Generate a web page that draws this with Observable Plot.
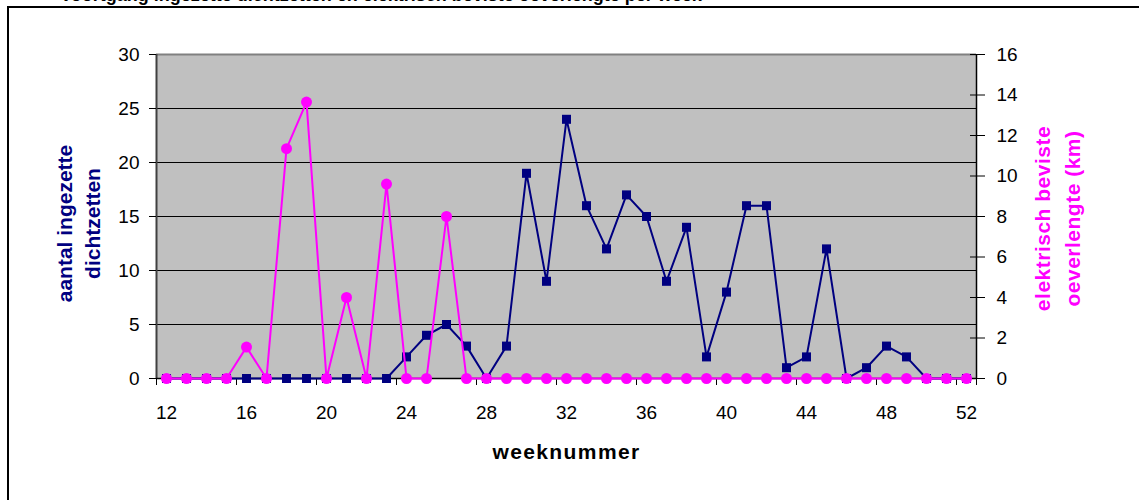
<!DOCTYPE html>
<html><head><meta charset="utf-8">
<script src="https://cdn.jsdelivr.net/npm/d3@7"></script>
<script src="https://cdn.jsdelivr.net/npm/@observablehq/plot@0.6"></script>
<style>
html,body{margin:0;padding:0;background:#fff;overflow:hidden;}
#wrap{position:relative;width:1139px;height:500px;overflow:hidden;font-family:"Liberation Sans",Arial,sans-serif;}
#border{position:absolute;left:7px;top:6px;width:1200px;height:600px;border:2px solid #000;box-sizing:border-box;}
#title{position:absolute;left:60px;top:-15px;font-weight:bold;font-size:18px;white-space:nowrap;color:#000;}
#chart{position:absolute;left:0;top:0;}
</style></head><body>
<div id="wrap">
  <div id="title">Voortgang ingezette dichtzetten en elektrisch beviste oeverlengte per week</div>
  <div id="border"></div>
  <div id="chart"></div>
</div>
<script>
// Categories (weeknummer)
const weeks = [12,13,14,15,16,17,18,19,20,21,22,23,24,25,26,27,28,29,30,31,32,33,34,35,36,37,38,39,40,41,42,43,44,45,46,47,48,49,50,51,52];
// aantal ingezette dichtzetten (left axis)
const dichtzetten = [0,0,0,0,0,0,0,0,0,0,0,0,2,4,5,3,0,3,19,9,24,16,12,17,15,9,14,2,8,16,16,1,2,12,0,1,3,2,0,0,0];
// elektrisch beviste oeverlengte in km (right axis)
const oeverlengte = [0,0,0,0,1.55,0,11.35,13.65,0,4.0,0,9.6,0,0,8.0,0,0,0,0,0,0,0,0,0,0,0,0,0,0,0,0,0,0,0,0,0,0,0,0,0,0];
// Tick labels
const leftTicks = [0,5,10,15,20,25,30];
const rightTicks = [0,2,4,6,8,10,12,14,16];
const xLabels = [12,16,20,24,28,32,36,40,44,48,52];
const xTickMarks = [11.5,15.5,19.5,23.5,27.5,31.5,35.5,39.5,43.5,47.5,51.5,52.5];

const leftMax = 30, rightMax = 16;
const toLeft = v => v * leftMax / rightMax;

const data = weeks.map((w, i) => ({week: w, dz: dichtzetten[i], km: oeverlengte[i]}));

const navy = "#000080", magenta = "#ff00ff";
const W = 1139, H = 500, mL = 156, mR = 163, mT = 54, mB = 122;
const frameW = W - mL - mR, frameH = H - mT - mB;

const chart = Plot.plot({
  width: W, height: H,
  marginLeft: mL, marginRight: mR, marginTop: mT, marginBottom: mB,
  style: {background: "transparent", fontFamily: "'Liberation Sans', Arial, sans-serif", fontSize: "19px", color: "#000"},
  x: {domain: [11.5, 52.5], axis: null},
  y: {domain: [0, leftMax], axis: null},
  marks: [
    Plot.frame({fill: "#c0c0c0", stroke: null}),
    Plot.ruleY(leftTicks.filter(d => d > 0 && d < leftMax), {stroke: "#000", strokeWidth: 1}),
    Plot.ruleY([leftMax], {stroke: "#808080", strokeWidth: 2}),
    Plot.ruleX([52.5], {stroke: "#000", strokeWidth: 1.5}),
    Plot.ruleX([11.5], {stroke: "#404040", strokeWidth: 2}),
    Plot.ruleY([0], {stroke: "#000", strokeWidth: 1.5}),
    Plot.axisY(leftTicks, {anchor: "left", tickSize: 7, tickPadding: 10, label: null, fontSize: 19, stroke: "#000"}),
    Plot.axisY(rightTicks.map(toLeft), {anchor: "right", tickSize: 8, tickPadding: 12, label: null, fontSize: 19,
      tickFormat: d => String(Math.round(d * rightMax / leftMax))}),
    Plot.tickY(rightTicks.map(toLeft), {insetLeft: frameW - 6, stroke: "#000"}),
    Plot.tickX(xTickMarks, {insetTop: frameH, insetBottom: -7, stroke: "#000"}),
    Plot.axisX(xLabels, {anchor: "bottom", tickSize: 0, tickPadding: 27, label: null, fontSize: 19}),
    Plot.line(data, {x: "week", y: "dz", stroke: navy, strokeWidth: 2}),
    Plot.dot(data, {x: "week", y: "dz", symbol: "square", r: 5.1, fill: navy, stroke: null}),
    Plot.line(data, {x: "week", y: d => toLeft(d.km), stroke: magenta, strokeWidth: 2}),
    Plot.dot(data, {x: "week", y: d => toLeft(d.km), r: 5.5, fill: magenta, stroke: null}),
    Plot.text(["aantal ingezette\ndichtzetten"], {frameAnchor: "left", dx: -79.5, dy: 7, rotate: -90, fill: navy,
      textAnchor: "middle", fontWeight: "bold", fontSize: 21, lineHeight: 1.33}),
    Plot.text(["elektrisch beviste\noeverlengte (km)"], {frameAnchor: "right", dx: 79, dy: 2, rotate: -90, fill: magenta,
      textAnchor: "middle", fontWeight: "bold", fontSize: 21, lineHeight: 1.4}),
    Plot.text(["weeknummer"], {frameAnchor: "bottom", dy: 74, fontWeight: "bold", fontSize: 21, lineAnchor: "middle", fill: "#000"})
  ]
});
document.getElementById("chart").appendChild(chart);
d3.select(chart).selectAll("text").each(function() {
  const t = this.textContent;
  if (t === "weeknummer") this.setAttribute("letter-spacing", "1.4");
  else if (/beviste|oeverlengte/.test(t)) this.setAttribute("letter-spacing", "0.5");
});
</script>
</body></html>
